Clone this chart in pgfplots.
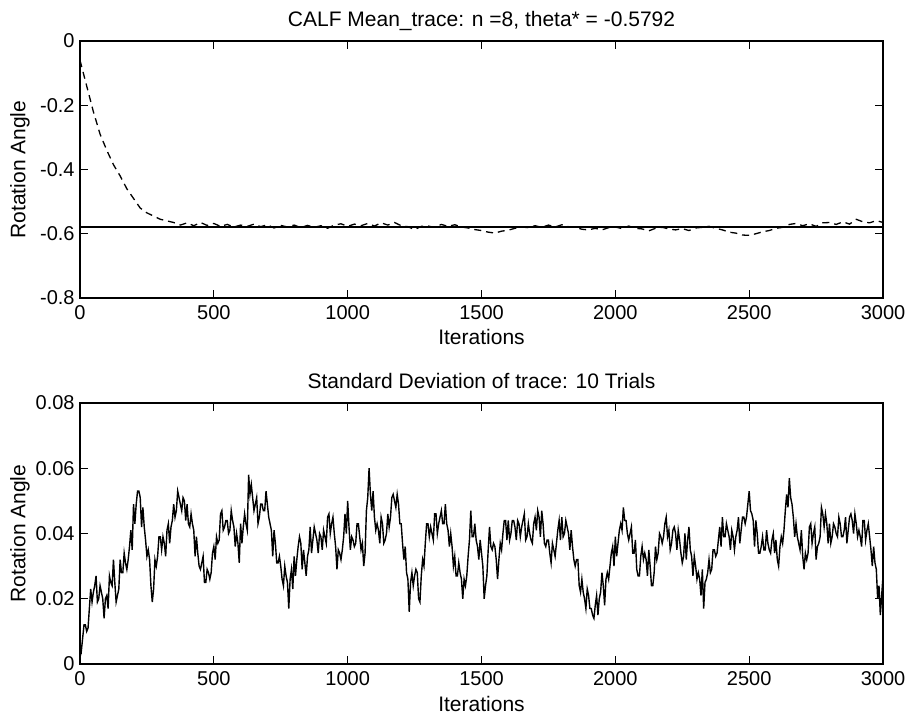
\documentclass[border=0pt]{standalone}
\usepackage{fontspec}
\setmainfont{Liberation Sans}
\usepackage{pgfplots}
\pgfplotsset{compat=1.18}
\begin{document}
\begin{tikzpicture}
\useasboundingbox (0,0) rectangle (454.5pt,358.5pt);
\pgfplotsset{
  every axis/.append style={
    font=\fontsize{10.5pt}{12.5pt}\selectfont,
    scale only axis,
    width=401.5pt,
    xmin=0, xmax=3000,
    xtick={0,500,1000,1500,2000,2500,3000},
    xticklabels={0,500,1000,1500,2000,2500,3000},
    scaled y ticks=false,
    tick align=inside,
    major tick length=4pt,
    axis line style={line width=0.8pt},
    every tick/.style={line width=0.6pt, black},
    tick label style={font=\fontsize{10pt}{12pt}\selectfont},
    xticklabel style={inner sep=0pt, anchor=north, yshift=-3.5pt},
    yticklabel style={inner sep=0pt, anchor=east, xshift=-2.5pt},
    xlabel style={at={(axis description cs:0.5,0)}, anchor=base, yshift=-23.5pt},
    ylabel style={at={(axis description cs:0,0.5)}, anchor=center, yshift=30pt},
    every axis title shift=0pt,
    title style={at={(axis description cs:0.5,1)}, anchor=base, yshift=7.5pt},
    xlabel={Iterations},
    ylabel={Rotation Angle},
  }
}
\begin{axis}[
  at={(40pt,209.5pt)}, anchor=south west,
  height=128.5pt,
  ymin=-0.8, ymax=0,
  ytick={-0.8,-0.6,-0.4,-0.2,0},
  yticklabels={-0.8,-0.6,-0.4,-0.2,0},
  title={CALF Mean\_trace: n =8, theta* = -0.5792},
]
\addplot[black, line width=0.6pt] coordinates {(0,-0.5792) (3000,-0.5792)};
\addplot[black, line width=0.65pt, dash pattern=on 3.5pt off 2.5pt] coordinates {
(0,-0.06) (25,-0.14) (50,-0.22) (75,-0.29) (100,-0.34) (125,-0.385) (150,-0.42) (175,-0.46)
(200,-0.49) (225,-0.52) (250,-0.535) (275,-0.545) (300,-0.555) (325,-0.56) (350,-0.565)
(375,-0.573) (400,-0.566) (425,-0.575) (450,-0.565) (475,-0.574) (500,-0.568) (525,-0.577)
(550,-0.571) (575,-0.579) (600,-0.573) (625,-0.577) (650,-0.570) (675,-0.578) (700,-0.572)
(725,-0.582) (750,-0.574) (775,-0.579) (800,-0.573) (825,-0.581) (850,-0.574) (875,-0.580)
(900,-0.575) (925,-0.583) (950,-0.573) (975,-0.569) (1000,-0.577) (1025,-0.570) (1050,-0.575)
(1075,-0.568) (1100,-0.576) (1125,-0.566) (1150,-0.573) (1175,-0.565) (1200,-0.575) (1225,-0.578)
(1250,-0.587) (1275,-0.577) (1300,-0.576) (1325,-0.580) (1350,-0.571) (1375,-0.577) (1400,-0.572)
(1425,-0.579) (1450,-0.582) (1475,-0.587) (1500,-0.590) (1525,-0.595) (1550,-0.598) (1575,-0.592)
(1600,-0.589) (1625,-0.583) (1650,-0.579) (1675,-0.581) (1700,-0.575) (1725,-0.580) (1750,-0.573)
(1775,-0.579) (1800,-0.572) (1825,-0.578) (1850,-0.580) (1875,-0.586) (1900,-0.588) (1925,-0.583)
(1950,-0.588) (1975,-0.581) (2000,-0.579) (2025,-0.584) (2050,-0.576) (2075,-0.583) (2100,-0.585)
(2125,-0.591) (2150,-0.583) (2175,-0.580) (2200,-0.585) (2225,-0.588) (2250,-0.584) (2275,-0.590)
(2300,-0.582) (2325,-0.580) (2350,-0.577) (2375,-0.583) (2400,-0.588) (2425,-0.595) (2450,-0.598)
(2475,-0.604) (2500,-0.605) (2525,-0.600) (2550,-0.594) (2575,-0.590) (2600,-0.583) (2625,-0.580)
(2650,-0.571) (2675,-0.568) (2700,-0.575) (2725,-0.569) (2750,-0.577) (2775,-0.566) (2800,-0.565)
(2825,-0.571) (2850,-0.563) (2875,-0.570) (2900,-0.555) (2925,-0.563) (2950,-0.566) (2975,-0.559)
(3000,-0.565)
};
\end{axis}
\begin{axis}[
  at={(40pt,26.5pt)}, anchor=south west,
  height=130.5pt,
  ymin=0, ymax=0.08,
  ytick={0,0.02,0.04,0.06,0.08},
  yticklabels={0,0.02,0.04,0.06,0.08},
  title={Standard Deviation of trace: 10 Trials},
]
\addplot[black, line width=0.7pt] coordinates {
(0,0.006) (5,0.004) (10,0.008) (15,0.012) (20,0.012) (25,0.010) (30,0.011) (35,0.017)
(40,0.023) (45,0.019) (50,0.022) (55,0.024) (60,0.027) (65,0.019) (70,0.020) (75,0.024)
(80,0.022) (85,0.020) (90,0.014) (95,0.020) (100,0.021) (105,0.017) (110,0.027) (115,0.025)
(120,0.024) (125,0.032) (130,0.025) (135,0.019) (140,0.021) (145,0.023) (150,0.032) (155,0.028)
(160,0.028) (165,0.034) (170,0.031) (175,0.029) (180,0.032) (185,0.036) (190,0.041) (195,0.035)
(200,0.049) (205,0.043) (210,0.049) (215,0.053) (220,0.053) (225,0.051) (230,0.042) (235,0.048)
(240,0.042) (245,0.038) (250,0.033) (255,0.035) (260,0.032) (265,0.024) (270,0.019) (275,0.023)
(280,0.032) (285,0.030) (290,0.033) (295,0.039) (300,0.039) (305,0.035) (310,0.039) (315,0.037)
(320,0.033) (325,0.041) (330,0.043) (335,0.037) (340,0.042) (345,0.044) (350,0.049) (355,0.045)
(360,0.047) (365,0.053) (370,0.051) (375,0.049) (380,0.047) (385,0.051) (390,0.050) (395,0.044)
(400,0.049) (405,0.043) (410,0.042) (415,0.046) (420,0.043) (425,0.041) (430,0.033) (435,0.039)
(440,0.034) (445,0.030) (450,0.029) (455,0.031) (460,0.033) (465,0.025) (470,0.025) (475,0.029)
(480,0.028) (485,0.026) (490,0.028) (495,0.034) (500,0.036) (505,0.032) (510,0.039) (515,0.037)
(520,0.038) (525,0.046) (530,0.047) (535,0.041) (540,0.042) (545,0.044) (550,0.044) (555,0.040)
(560,0.041) (565,0.047) (570,0.044) (575,0.042) (580,0.036) (585,0.040) (590,0.037) (595,0.031)
(600,0.043) (605,0.037) (610,0.042) (615,0.046) (620,0.043) (625,0.041) (630,0.058) (635,0.052)
(640,0.055) (645,0.051) (650,0.047) (655,0.049) (660,0.051) (665,0.043) (670,0.045) (675,0.049)
(680,0.049) (685,0.047) (690,0.047) (695,0.053) (700,0.049) (705,0.045) (710,0.043) (715,0.041)
(720,0.033) (725,0.041) (730,0.037) (735,0.031) (740,0.031) (745,0.033) (750,0.030) (755,0.026)
(760,0.024) (765,0.030) (770,0.027) (775,0.025) (780,0.017) (785,0.026) (790,0.029) (795,0.023)
(800,0.033) (805,0.027) (810,0.032) (815,0.036) (820,0.039) (825,0.037) (830,0.029) (835,0.035)
(840,0.031) (845,0.027) (850,0.033) (855,0.035) (860,0.042) (865,0.034) (870,0.038) (875,0.042)
(880,0.040) (885,0.038) (890,0.034) (895,0.040) (900,0.039) (905,0.035) (910,0.041) (915,0.039)
(920,0.037) (925,0.045) (930,0.046) (935,0.040) (940,0.043) (945,0.045) (950,0.040) (955,0.036)
(960,0.029) (965,0.035) (970,0.034) (975,0.032) (980,0.035) (985,0.039) (990,0.046) (995,0.040)
(1000,0.050) (1005,0.042) (1010,0.035) (1015,0.039) (1020,0.038) (1025,0.036) (1030,0.037) (1035,0.043)
(1040,0.043) (1045,0.039) (1050,0.035) (1055,0.037) (1060,0.030) (1065,0.034) (1070,0.047) (1075,0.051)
(1080,0.060) (1085,0.052) (1090,0.047) (1095,0.053) (1100,0.045) (1105,0.041) (1110,0.043) (1115,0.041)
(1120,0.037) (1125,0.045) (1130,0.043) (1135,0.037) (1140,0.038) (1145,0.040) (1150,0.046) (1155,0.042)
(1160,0.045) (1165,0.051) (1170,0.052) (1175,0.050) (1180,0.048) (1185,0.052) (1190,0.049) (1195,0.043)
(1200,0.043) (1205,0.037) (1210,0.032) (1215,0.036) (1220,0.028) (1225,0.026) (1230,0.016) (1235,0.025)
(1240,0.028) (1245,0.024) (1250,0.027) (1255,0.029) (1260,0.028) (1265,0.020) (1270,0.019) (1275,0.027)
(1280,0.032) (1285,0.030) (1290,0.037) (1295,0.043) (1300,0.043) (1305,0.039) (1310,0.042) (1315,0.040)
(1320,0.038) (1325,0.046) (1330,0.046) (1335,0.040) (1340,0.043) (1345,0.045) (1350,0.047) (1355,0.043)
(1360,0.043) (1365,0.049) (1370,0.043) (1375,0.041) (1380,0.036) (1385,0.040) (1390,0.036) (1395,0.030)
(1400,0.033) (1405,0.027) (1410,0.027) (1415,0.031) (1420,0.028) (1425,0.026) (1430,0.020) (1435,0.026)
(1440,0.024) (1445,0.027) (1450,0.033) (1455,0.038) (1460,0.047) (1465,0.039) (1470,0.039) (1475,0.043)
(1480,0.038) (1485,0.036) (1490,0.032) (1495,0.038) (1500,0.034) (1505,0.030) (1510,0.020) (1515,0.024)
(1520,0.027) (1525,0.035) (1530,0.042) (1535,0.036) (1540,0.035) (1545,0.037) (1550,0.036) (1555,0.032)
(1560,0.026) (1565,0.032) (1570,0.037) (1575,0.035) (1580,0.040) (1585,0.044) (1590,0.044) (1595,0.038)
(1600,0.044) (1605,0.038) (1610,0.040) (1615,0.044) (1620,0.044) (1625,0.042) (1630,0.038) (1635,0.044)
(1640,0.043) (1645,0.039) (1650,0.042) (1655,0.044) (1660,0.046) (1665,0.038) (1670,0.039) (1675,0.043)
(1680,0.040) (1685,0.038) (1690,0.037) (1695,0.043) (1700,0.045) (1705,0.041) (1710,0.047) (1715,0.045)
(1720,0.039) (1725,0.047) (1730,0.043) (1735,0.037) (1740,0.036) (1745,0.038) (1750,0.038) (1755,0.034)
(1760,0.031) (1765,0.037) (1770,0.035) (1775,0.033) (1780,0.037) (1785,0.041) (1790,0.044) (1795,0.038)
(1800,0.045) (1805,0.039) (1810,0.040) (1815,0.044) (1820,0.042) (1825,0.040) (1830,0.035) (1835,0.041)
(1840,0.036) (1845,0.032) (1850,0.030) (1855,0.032) (1860,0.032) (1865,0.024) (1870,0.022) (1875,0.026)
(1880,0.022) (1885,0.020) (1890,0.017) (1895,0.023) (1900,0.021) (1905,0.017) (1910,0.017) (1915,0.015)
(1920,0.014) (1925,0.018) (1930,0.021) (1935,0.015) (1940,0.020) (1945,0.022) (1950,0.028) (1955,0.024)
(1960,0.018) (1965,0.026) (1970,0.028) (1975,0.026) (1980,0.030) (1985,0.034) (1990,0.036) (1995,0.030)
(2000,0.039) (2005,0.033) (2010,0.037) (2015,0.041) (2020,0.043) (2025,0.041) (2030,0.048) (2035,0.044)
(2040,0.044) (2045,0.040) (2050,0.038) (2055,0.040) (2060,0.042) (2065,0.034) (2070,0.034) (2075,0.038)
(2080,0.029) (2085,0.027) (2090,0.027) (2095,0.033) (2100,0.036) (2105,0.032) (2110,0.034) (2115,0.032)
(2120,0.027) (2125,0.035) (2130,0.030) (2135,0.024) (2140,0.024) (2145,0.028) (2150,0.036) (2155,0.032)
(2160,0.034) (2165,0.040) (2170,0.039) (2175,0.037) (2180,0.039) (2185,0.043) (2190,0.045) (2195,0.039)
(2200,0.041) (2205,0.035) (2210,0.037) (2215,0.041) (2220,0.042) (2225,0.040) (2230,0.035) (2235,0.041)
(2240,0.038) (2245,0.034) (2250,0.031) (2255,0.033) (2260,0.040) (2265,0.032) (2270,0.038) (2275,0.042)
(2280,0.035) (2285,0.033) (2290,0.027) (2295,0.033) (2300,0.030) (2305,0.026) (2310,0.028) (2315,0.026)
(2320,0.021) (2325,0.029) (2330,0.017) (2335,0.025) (2340,0.026) (2345,0.028) (2350,0.032) (2355,0.028)
(2360,0.029) (2365,0.035) (2370,0.035) (2375,0.033) (2380,0.034) (2385,0.038) (2390,0.042) (2395,0.036)
(2400,0.045) (2405,0.039) (2410,0.039) (2415,0.043) (2420,0.041) (2425,0.039) (2430,0.035) (2435,0.041)
(2440,0.039) (2445,0.035) (2450,0.039) (2455,0.041) (2460,0.045) (2465,0.037) (2470,0.041) (2475,0.045)
(2480,0.045) (2485,0.043) (2490,0.045) (2495,0.049) (2500,0.053) (2505,0.047) (2510,0.046) (2515,0.044)
(2520,0.036) (2525,0.044) (2530,0.040) (2535,0.034) (2540,0.034) (2545,0.036) (2550,0.039) (2555,0.035)
(2560,0.035) (2565,0.041) (2570,0.037) (2575,0.035) (2580,0.034) (2585,0.038) (2590,0.040) (2595,0.034)
(2600,0.038) (2605,0.032) (2610,0.030) (2615,0.036) (2620,0.039) (2625,0.037) (2630,0.041) (2635,0.047)
(2640,0.052) (2645,0.048) (2650,0.057) (2655,0.051) (2660,0.049) (2665,0.045) (2670,0.039) (2675,0.043)
(2680,0.039) (2685,0.037) (2690,0.035) (2695,0.041) (2700,0.033) (2705,0.029) (2710,0.034) (2715,0.032)
(2720,0.034) (2725,0.042) (2730,0.043) (2735,0.037) (2740,0.040) (2745,0.042) (2750,0.032) (2755,0.036)
(2760,0.037) (2765,0.039) (2770,0.048) (2775,0.046) (2780,0.042) (2785,0.046) (2790,0.043) (2795,0.037)
(2800,0.043) (2805,0.037) (2810,0.039) (2815,0.043) (2820,0.042) (2825,0.040) (2830,0.039) (2835,0.045)
(2840,0.043) (2845,0.039) (2850,0.039) (2855,0.041) (2860,0.045) (2865,0.037) (2870,0.041) (2875,0.045)
(2880,0.046) (2885,0.044) (2890,0.040) (2895,0.046) (2900,0.043) (2905,0.039) (2910,0.041) (2915,0.039)
(2920,0.036) (2925,0.044) (2930,0.044) (2935,0.038) (2940,0.041) (2945,0.043) (2950,0.039) (2955,0.035)
(2960,0.030) (2965,0.036) (2970,0.031) (2975,0.029) (2980,0.020) (2985,0.024) (2990,0.015) (2995,0.021)
(3000,0.027)
};
\end{axis}
\end{tikzpicture}
\end{document}
